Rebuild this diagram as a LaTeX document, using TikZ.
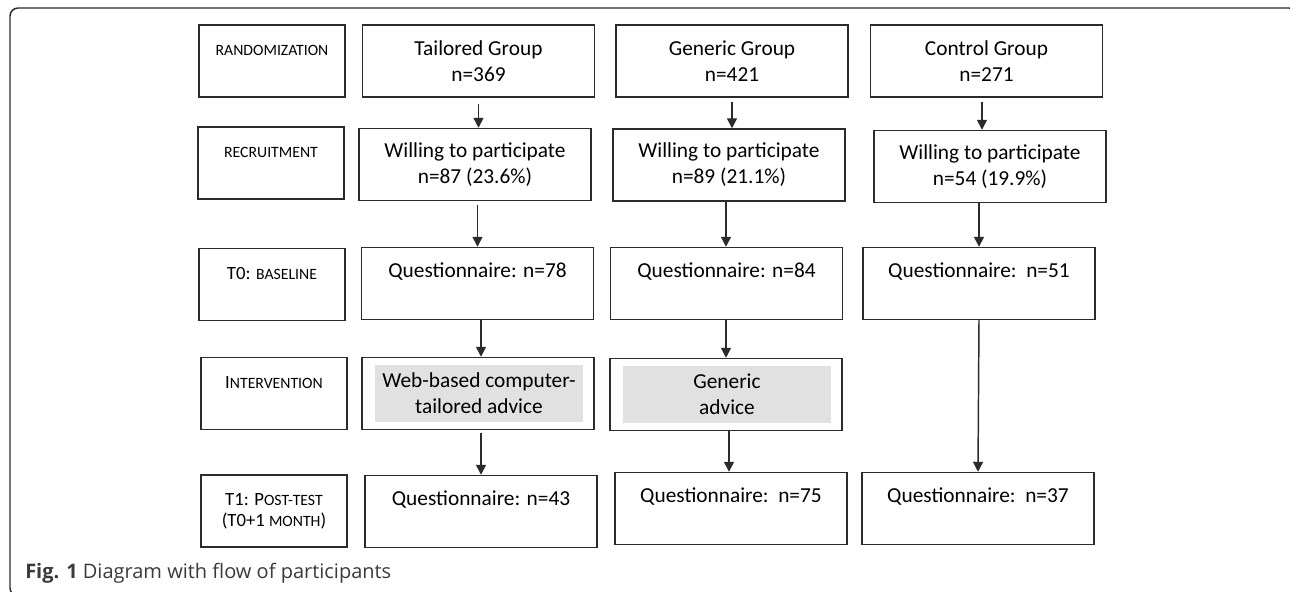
\documentclass[tikz,border=0pt]{standalone}
\usepackage{fontspec}
\setmainfont{Carlito}
\newfontfamily\captionfont{Open Sans}
\usetikzlibrary{arrows.meta}
\definecolor{linegray}{HTML}{2B2B2B}
\definecolor{advicegray}{HTML}{E1E1E1}
\definecolor{captiongray}{HTML}{3A3A3A}
\newcommand\smc[1]{{\fontsize{11.8}{16}\selectfont #1}}

\begin{document}
\begin{tikzpicture}[x=0.75pt,y=0.75pt,yscale=-1,
  box/.style={draw=linegray, line width=1.1pt, minimum width=174pt, minimum height=54pt,
    align=center, inner sep=0pt, font=\fontsize{16}{19.5}\selectfont},
  stage/.style={box, minimum width=109.5pt, font=\fontsize{14}{16}\selectfont},
  advice/.style={fill=advicegray, minimum width=156pt, minimum height=42.75pt,
    align=center, inner sep=0pt, font=\fontsize{16}{19.5}\selectfont},
  flow/.style={draw=linegray, line width=1.1pt, -{Triangle[length=7.5pt,width=7.5pt]}}]
\useasboundingbox (0,0) rectangle (1290,592);
\clip (0,0) rectangle (1290,592);

%Frame
\draw [linegray, line width=1.1pt, rounded corners=6pt] (10,8) rectangle (1297,596);

% Stage labels
\node [stage] (lrand) at (272,61) {\smc{RANDOMIZATION}\\~};
\node [stage] (lrecr) at (271,163) {\smc{RECRUITMENT}\\~};
\node [stage] (lbase) at (272,284.5) {T0: \smc{BASELINE}\\~};
\node [stage] (lint) at (274,393.5) {I\smc{NTERVENTION}\\~};
\node [stage] (lpost) at (274,511) {T1: P\smc{OST-TEST}\\(T0+1 \smc{MONTH})};

% Randomization row
\node [box] (trand) at (478.5,61) {Tailored Group\\n=369};
\node [box] (grand) at (732,61) {Generic Group\\n=421};
\node [box] (crand) at (986.5,61) {Control Group\\n=271};

% Recruitment row
\node [box] (trecr) at (475,164.5) {Willing to participate\\n=87 (23.6\%)};
\node [box] (grecr) at (729,165) {Willing to participate\\n=89 (21.1\%)};
\node [box] (crecr) at (990,166.5) {Willing to participate\\n=54 (19.9\%)};

% Baseline row
\node [box] (tbase) at (477.5,283.5) {Questionnaire: n=78\\~};
\node [box] (gbase) at (726.5,283.5) {Questionnaire: n=84\\~};
\node [box] (cbase) at (979,283.5) {Questionnaire:\ \ n=51\\~};

% Intervention row
\node [box] (tint) at (478,393.5) {};
\node [advice] (tadv) at (479,393.5) {Web-based computer-\\tailored advice};
\node [box] (gint) at (726,394.5) {};
\node [advice] (gadv) at (727,394) {Generic\\advice};

% Post-test row
\node [box] (tpost) at (481,511.5) {Questionnaire: n=43\\~};
\node [box] (gpost) at (731,508.5) {Questionnaire:\ \ n=75\\~};
\node [box] (cpost) at (978,508.5) {Questionnaire:\ \ n=37\\~};

% Arrows
\draw [flow, shorten <=4.5pt] (trand.south) -- (trand.south |- trecr.north);
\draw [flow, shorten <=3pt] (trecr.south -| tbase.north) -- (tbase.north);
\draw [flow] (tbase.south -| tpost.north) -- (tint.north -| tpost.north);
\draw [flow, shorten <=2pt] (tint.south -| tpost.north) -- (tpost.north);

\draw [flow, shorten <=3pt] (grand.south) -- (grand.south |- grecr.north);
\draw [flow] (grecr.south -| gint.north) -- (gbase.north -| gint.north);
\draw [flow] (gbase.south -| gint.north) -- (gint.north);
\draw [flow] (gint.south -| grecr.north) -- (gpost.north -| grecr.north);

\draw [flow, shorten <=3.5pt] (crand.south -| 982,0) -- (crecr.north -| 982,0);
\draw [flow] (crecr.south -| cbase.north) -- (cbase.north);
\draw [flow] (cbase.south) -- (cpost.north);

% Caption
\node [anchor=base west, inner sep=0pt, text=captiongray,
  font=\captionfont\fontsize{15}{18}\selectfont] (caption) at (25,578)
  {\textbf{Fig. 1} Diagram with flow of participants};
\end{tikzpicture}
\end{document}
